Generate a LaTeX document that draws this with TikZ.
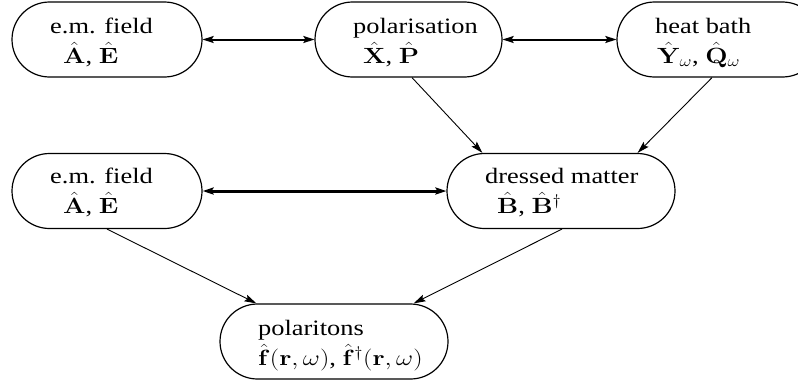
\documentclass[tikz,border=0pt]{standalone}
\usepackage{fix-cm}
\usepackage[no-math]{fontspec}
\setmainfont{Liberation Serif}
\newfontfamily\tmsfont{Liberation Serif}
\usepackage{graphicx}
\usetikzlibrary{arrows.meta,calc}
\newcommand{\wtx}[1]{\scalebox{1.2}[1]{#1}}
\tikzset{
  box/.style={draw, line width=1.2pt, rounded corners=37.5pt, inner sep=0pt, minimum height=75pt},
  txt/.style={anchor=base west, inner sep=0pt, font=\tmsfont\fontsize{22}{29}\selectfont},
  biarrow/.style={line width=2pt, {Stealth[length=11pt,width=7pt,inset=2pt]}-{Stealth[length=11pt,width=7pt,inset=2pt]}},
  thickbiarrow/.style={line width=3pt, {Stealth[length=11pt,width=7pt,inset=2pt]}-{Stealth[length=11pt,width=7pt,inset=2pt]}},
  diarrow/.style={line width=0.9pt, -{Stealth[length=12pt,width=7pt,inset=2pt]}}
}
\begin{document}
\begin{tikzpicture}[x=1pt,y=-1pt]
\useasboundingbox (0,0) rectangle (798,388);
\clip (0,0) rectangle (798,388);
% boxes
\node[box, minimum width=190pt] (B1) at (107,39.5) {};
\node[box, minimum width=187pt] (B2) at (408.5,39.5) {};
\node[box, minimum width=203pt] (B3) at (718.5,39.5) {};
\node[box, minimum width=190pt] (B4) at (107,191) {};
\node[box, minimum width=228pt] (B5) at (561,191) {};
\node[box, minimum width=228pt] (B6) at (334,341.5) {};
% texts
\node[txt] (t1a) at (50,33) {\wtx{e.m. field}};
\node[txt] (t1b) at (63,63) {\wtx{$\hat{\mathbf{A}}$, $\hat{\mathbf{E}}$}};
\node[txt] (t2a) at (353,33) {\wtx{polarisation}};
\node[txt] (t2b) at (363,63) {\wtx{$\hat{\mathbf{X}}$, $\hat{\mathbf{P}}$}};
\node[txt] (t3a) at (655,33) {\wtx{heat bath}};
\node[txt] (t3b) at (657,63) {\wtx{$\hat{\mathbf{Y}}_\omega$, $\hat{\mathbf{Q}}_\omega$}};
\node[txt] (t4a) at (50,183) {\wtx{e.m. field}};
\node[txt] (t4b) at (63,213) {\wtx{$\hat{\mathbf{A}}$, $\hat{\mathbf{E}}$}};
\node[txt] (t5a) at (485,183) {\wtx{dressed matter}};
\node[txt] (t5b) at (497,213) {\wtx{$\hat{\mathbf{B}}$, $\hat{\mathbf{B}}^\dagger$}};
\node[txt] (t6a) at (258,335) {\wtx{polaritons}};
\node[txt] (t6b) at (258,365) {\wtx{$\hat{\mathbf{f}}(\mathbf{r},\omega)$, $\hat{\mathbf{f}}^\dagger(\mathbf{r},\omega)$}};
% connectors
\draw[biarrow] (B1.east) -- (B2.west);
\draw[biarrow] (B2.east) -- (B3.west);
\draw[thickbiarrow] (B4.east) -- (B5.west);
\draw[diarrow] ([xshift=3.5pt]B2.south) -- ([xshift=36pt]B5.north west);
\draw[diarrow] ([xshift=-6.5pt]B3.south) -- ([xshift=-38pt]B5.north east);
\draw[diarrow] (B4.south) -- ([xshift=37pt]B6.north west);
\draw[diarrow] ([xshift=1pt]B5.south) -- ([xshift=-35pt]B6.north east);
\end{tikzpicture}
\end{document}
